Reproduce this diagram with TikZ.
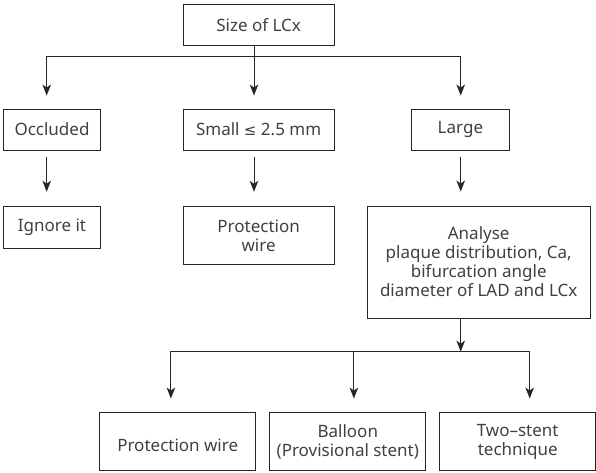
\documentclass[tikz,border=0pt]{standalone}
\usepackage{fontspec}
\setmainfont{Noto Sans}
\newfontfamily\symfont{DejaVu Sans}
\usetikzlibrary{arrows.meta}
\begin{document}
\begin{tikzpicture}[x=1pt,y=-1pt,
  box/.style={draw=black!85, line width=0.9pt, text=black!75, align=center, inner sep=0pt,
    font=\fontsize{17}{19}\selectfont},
  conn/.style={draw=black!85, line width=0.9pt},
  arr/.style={conn, -{Stealth[length=11pt,width=8.5pt,inset=3pt]}}]
\useasboundingbox (0,0) rectangle (596,473);
% nodes
\node[box, minimum width=151pt, minimum height=41pt] (top) at (258.6,25.4) {Size of LCx};
\node[box, minimum width=97.4pt, minimum height=41pt] (occ) at (52,129.5) {Occluded};
\node[box, minimum width=150.7pt, minimum height=41pt] (small) at (258.6,129.5) {Small {\symfont\fontsize{15}{19}\selectfont ≤} 2.5 mm};
\node[box, minimum width=97.3pt, minimum height=41pt] (large) at (460.4,129.5) {Large};
\node[box, minimum width=97.4pt, minimum height=41.6pt] (ign) at (52,227.5) {Ignore it};
\node[box, minimum width=150.7pt, minimum height=57.3pt] (prot) at (258.6,235.4) {Protection\\wire};
\node[box, minimum width=222.7pt, minimum height=112pt] (ana) at (478.7,262)
  {Analyse\\plaque distribution, Ca,\\bifurcation angle\\diameter of LAD and LCx};
\node[box, minimum width=156pt, minimum height=58pt] (b1) at (177.7,441.7) {\mbox{}\\Protection wire};
\node[box, minimum width=156pt, minimum height=58pt] (b2) at (347.8,441.7) {Balloon\\(Provisional stent)};
\node[box, minimum width=155.6pt, minimum height=58pt] (b3) at (517.7,441.7) {Two–stent\\technique};
% junctions
\coordinate (j1) at (254,56.7);
\coordinate (xa) at (46.7,0);
\coordinate (xc) at (460.7,0);
\coordinate (j2) at (460.7,351.7);
\coordinate (xl) at (170.9,0);
\coordinate (xm) at (353.9,0);
\coordinate (xr) at (529.7,0);
% connectors top level
\draw[conn] (top.south -| j1) -- (j1);
\draw[arr, shorten >=13pt] (j1) -| (occ.north -| xa);
\draw[arr, shorten >=13pt] (j1) -- (small.north -| j1);
\draw[arr, shorten >=13pt] (j1) -| (large.north -| xc);
% second level
\draw[arr, shorten <=7pt, shorten >=14.5pt] (occ.south -| xa) -- (ign.north -| xa);
\draw[arr, shorten <=7pt, shorten >=14.5pt] (small.south -| j1) -- (prot.north -| j1);
\draw[arr, shorten <=7pt, shorten >=14pt] (large.south -| xc) -- (ana.north -| xc);
% third level
\draw[arr] (ana.south -| j2) -- (j2);
\draw[arr, shorten >=13.7pt] (j2) -| (b1.north -| xl);
\draw[arr, shorten >=13.7pt] (j2) -| (b3.north -| xr);
\draw[conn] (j2) -- (j2 -| xl);
\draw[arr, shorten >=13.7pt] (j2 -| xm) -- (b2.north -| xm);
\end{tikzpicture}
\end{document}
